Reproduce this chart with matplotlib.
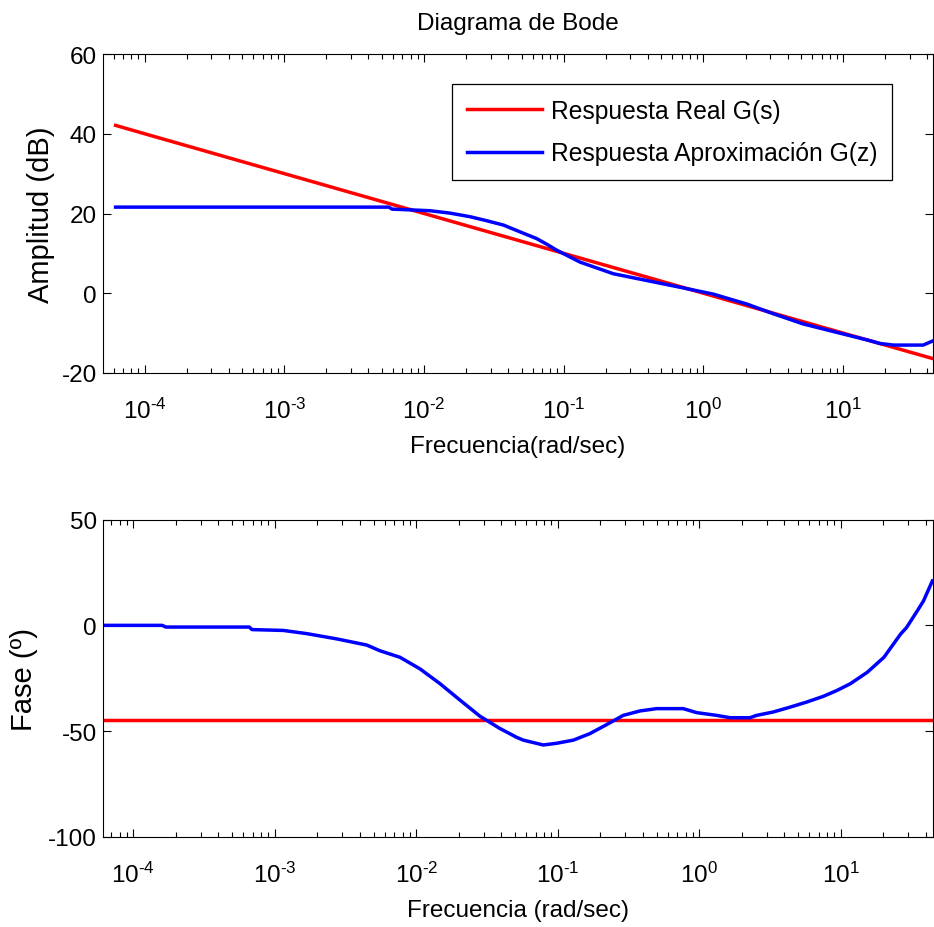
import numpy as np
import matplotlib
matplotlib.use('Agg')
import matplotlib.pyplot as plt
from matplotlib.ticker import FixedLocator, FuncFormatter, NullFormatter

plt.rcParams['font.family'] = 'Liberation Sans'
plt.rcParams['mathtext.fontset'] = 'custom'
plt.rcParams['mathtext.rm'] = 'Liberation Sans'
plt.rcParams['mathtext.it'] = 'Liberation Sans'
plt.rcParams['mathtext.default'] = 'regular'
plt.rcParams['axes.unicode_minus'] = False

## magnitude (dB)
w_mag_real = [6.2e-5, 1e-4, 1e-3, 1e-2, 1e-1, 1e0, 1e1, 44.0]
mag_real = [42.1, 40.0, 30.0, 20.0, 10.0, 0.0, -10.0, -16.4]

w_mag_aprox = [6.2e-5, 0.0056, 0.0059, 0.011, 0.0153, 0.0213, 0.028, 0.037, 0.0486,
               0.064, 0.0755, 0.089, 0.131, 0.226, 0.392, 0.68, 1.17, 2.04, 3.2,
               5.18, 8.97, 15.6, 18.3, 22.9, 37.4, 44.2]
mag_aprox = [21.6, 21.6, 21.1, 20.7, 20.1, 19.2, 18.2, 17.1, 15.4,
             13.7, 12.3, 10.8, 7.8, 4.9, 3.2, 1.5, -0.2, -2.7, -5.2,
             -7.7, -9.8, -11.9, -12.6, -13.0, -13.0, -11.9]

## phase (deg)
w_ph_real = [6.2e-5, 45.0]
ph_real = [-45.0, -45.0]

w_ph_aprox = [6.3e-5, 1.6e-4, 1.7e-4, 6.6e-4, 6.9e-4, 1.15e-3, 1.68e-3, 2.74e-3,
              4.46e-3, 5.53e-3, 7.67e-3, 0.01063, 0.01472, 0.0204, 0.0282, 0.039,
              0.0513, 0.057, 0.079, 0.098, 0.129, 0.169, 0.221, 0.29, 0.381, 0.5,
              0.77, 0.96, 1.33, 1.65, 2.28, 2.54, 3.33, 4.38, 5.74, 7.52, 9.4,
              11.7, 15.4, 20.2, 26.5, 29.2, 34.7, 38.4, 44.4]
ph_aprox = [0.0, 0.0, -0.8, -0.8, -2.0, -2.4, -3.9, -6.4,
            -9.3, -12.0, -15.1, -20.6, -27.6, -35.4, -43.0, -48.8,
            -53.0, -54.3, -56.6, -55.8, -54.3, -51.2, -47.0, -42.6, -40.5, -39.4,
            -39.4, -41.3, -42.6, -43.7, -43.7, -42.6, -41.0, -38.7, -36.3, -33.6, -30.8,
            -27.6, -22.2, -15.1, -4.1, -1.0, 6.8, 11.5, 21.0]

# decades shown on the frequency axis
decades = [-4, -3, -2, -1, 0, 1]

fs = 17.5
lw = 2.5

def dec_fmt(x, pos):
    e = int(round(np.log10(x)))
    if e < 0:
        return r'$10^{\text{-}%d}$' % (-e)
    return r'$10^{%d}$' % e

def style_axis(ax, xmin, xmax):
    ax.set_xscale('log')
    ax.set_xlim(xmin, xmax)
    major = [10.0**d for d in decades]
    minor = [m * 10.0**d for d in [-5] + decades for m in range(2, 10)]
    minor = [v for v in minor if xmin <= v <= xmax]
    ax.xaxis.set_major_locator(FixedLocator(major))
    ax.xaxis.set_minor_locator(FixedLocator(minor))
    ax.xaxis.set_major_formatter(FuncFormatter(dec_fmt))
    ax.xaxis.set_minor_formatter(NullFormatter())
    ax.tick_params(which='both', direction='in', top=True, right=True, width=0.8)
    ax.tick_params(which='major', length=5.5)
    ax.tick_params(which='minor', length=3.5)
    ax.tick_params(axis='x', which='major', pad=18, labelsize=fs)
    ax.tick_params(axis='y', which='major', pad=4.5, labelsize=fs)

fig = plt.figure(figsize=(9.34, 9.28), dpi=100)

# magnitude
ax1 = fig.add_axes([103/934, 554/928, 830/934, 319/928])
ax1.plot(w_mag_real, mag_real, color='#ff0000', lw=lw, label='Respuesta Real G(s)')
ax1.plot(w_mag_aprox, mag_aprox, color='#0000ff', lw=lw, label='Respuesta Aproximación G(z)')
style_axis(ax1, 10**-4.298, 10**1.643)
ax1.set_ylim(-20, 60)
ax1.yaxis.set_major_locator(FixedLocator([-20, 0, 20, 40, 60]))
ax1.set_title('Diagrama de Bode', fontsize=fs, pad=18)
ax1.set_xlabel('Frecuencia(rad/sec)', fontsize=fs)
ax1.set_ylabel('Amplitud (dB)', fontsize=21)
ax1.xaxis.set_label_coords(0.5, -0.195)
ax1.yaxis.set_label_coords(-0.058, 0.5)
leg = ax1.legend(loc='upper right', bbox_to_anchor=(0.9506, 0.906), borderaxespad=0,
                 fontsize=17.7, handlelength=3.05, handletextpad=0.37, labelspacing=0.75,
                 borderpad=0.6, fancybox=False, framealpha=1, edgecolor='black')
leg.get_frame().set_linewidth(0.9)

# phase
ax2 = fig.add_axes([103/934, 90.3/928, 830/934, 317/928])
ax2.plot(w_ph_real, ph_real, color='#ff0000', lw=lw)
ax2.plot(w_ph_aprox, ph_aprox, color='#0000ff', lw=lw)
style_axis(ax2, 10**-4.214, 10**1.652)
ax2.set_ylim(-100, 50)
ax2.yaxis.set_major_locator(FixedLocator([-100, -50, 0, 50]))
ax2.set_xlabel('Frecuencia (rad/sec)', fontsize=fs)
ax2.set_ylabel('Fase (º)', fontsize=21)
ax2.xaxis.set_label_coords(0.5, -0.197)
ax2.yaxis.set_label_coords(-0.078, 0.5)

fig.savefig('out.png', dpi=100)
